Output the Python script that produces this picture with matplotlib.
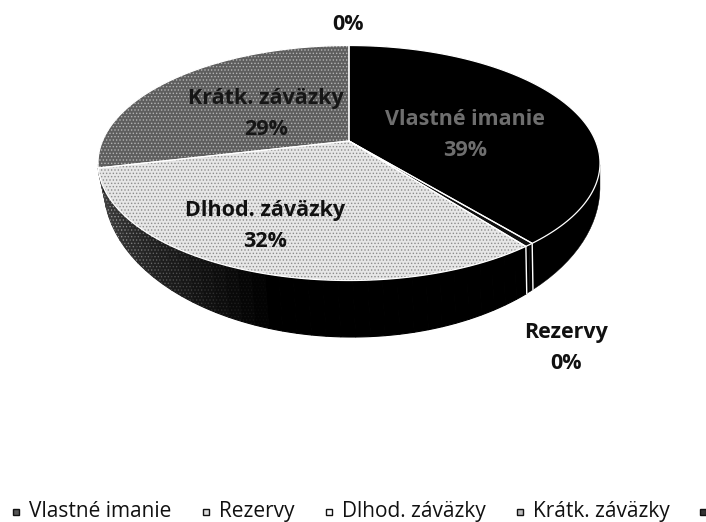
import numpy as np
import matplotlib
matplotlib.use('Agg')
import matplotlib.pyplot as plt

plt.rcParams['font.family'] = ['Open Sans', 'DejaVu Sans']
plt.rcParams['hatch.linewidth'] = 0.6

# values (percent of the pie, clockwise from 12 o'clock)
categories = ['Vlastné imanie', 'Rezervy', 'Dlhod. záväzky', 'Krátk. záväzky', '']
values = [38.9, 0.5, 32.0, 28.6, 0.0]
pct_labels = ['39%', '0%', '32%', '29%', '0%']

face_colors = ['#000000', '#101010', '#e6e6e6', '#5e5e5e', '#303030']
dot_colors = ['#000000', '#101010', '#8c8c8c', '#b4b4b4', '#303030']

# pie geometry in image pixels
apex = (349, 141)
top_c = (349, 163)
top_r = (251, 117.5)
bot_c = (352, 187)
bot_r = (248, 150)

fig = plt.figure(figsize=(7.06, 5.22), dpi=100)
ax = fig.add_axes([0, 0, 1, 1])
ax.set_xlim(0, 706)
ax.set_ylim(522, 0)
ax.axis('off')


def rim_params(theta):
    # ray from the apex hits the top ellipse, gives the ellipse parameter
    dx = np.sin(theta) * top_r[0]
    dy = -np.cos(theta) * top_r[1]
    ox = (apex[0] - top_c[0]) / top_r[0]
    oy = (apex[1] - top_c[1]) / top_r[1]
    ux, uy = dx / top_r[0], dy / top_r[1]
    a = ux**2 + uy**2
    b = 2 * (ox * ux + oy * uy)
    c = ox**2 + oy**2 - 1
    t = (-b + np.sqrt(b**2 - 4 * a * c)) / (2 * a)
    return ox + t * ux, oy + t * uy


def top_xy(theta):
    u, v = rim_params(theta)
    return top_c[0] + u * top_r[0], top_c[1] + v * top_r[1]


def bot_xy(theta):
    u, v = rim_params(theta)
    return bot_c[0] + u * bot_r[0], bot_c[1] + v * bot_r[1]


edges = np.cumsum([0] + values) / sum(values) * 2 * np.pi

# side wall, black on the right, speckled dark towards the left
for i in range(len(values)):
    if values[i] == 0:
        continue
    n = 2 if i != 2 else 40
    steps = np.linspace(edges[i], edges[i + 1], n + 1)
    for k in range(n):
        th = np.linspace(steps[k], steps[k + 1], 30)
        # front half only, the back of the wall is hidden
        th = th[rim_params(th)[1] >= 0]
        if len(th) < 2:
            continue
        tx, ty = top_xy(th)
        bx, by = bot_xy(th)
        xs = np.r_[tx, bx[::-1]]
        ys = np.r_[ty, by[::-1]]
        if i == 2:
            mix = max(0, (k / n - 0.45) / 0.55)
            fc = str(0.0 + mix * 0.28)
            dot = str(0.0 + mix * 0.85)
            ax.fill(xs, ys, facecolor=fc, edgecolor=fc, lw=0.8, zorder=1)
            if mix > 0:
                ax.fill(xs, ys, facecolor='none', edgecolor=dot, hatch='.....', lw=0, zorder=1)
        else:
            ax.fill(xs, ys, facecolor='#000000', edgecolor='#000000', lw=0.3, zorder=1)

# white seam of the thin Rezervy slice on the wall
for th in [edges[1], edges[2]]:
    tx, ty = top_xy(th)
    bx, by = bot_xy(th)
    ax.plot([tx, bx], [ty, by], color='white', lw=1.0, zorder=2)

# top face
for i in range(len(values)):
    if values[i] == 0:
        continue
    th = np.linspace(edges[i], edges[i + 1], 120)
    tx, ty = top_xy(th)
    xs = np.r_[apex[0], tx]
    ys = np.r_[apex[1], ty]
    ax.fill(xs, ys, facecolor=face_colors[i], edgecolor=dot_colors[i], hatch='.....', lw=0, zorder=3)
    ax.plot(np.r_[xs, xs[0]], np.r_[ys, ys[0]], color='white', lw=0.9, zorder=4)

# data labels
label_font = dict(fontsize=15.5, fontweight='bold', ha='center', va='center', linespacing=1.65, zorder=5)
ax.text(465, 135, categories[0] + '\n' + pct_labels[0], color='#6e6e6e', **label_font)
ax.text(266, 114, categories[3] + '\n' + pct_labels[3], color='#161616', **label_font)
ax.text(265, 226, categories[2] + '\n' + pct_labels[2], color='#111111', **label_font)
ax.text(566, 348, categories[1] + '\n' + pct_labels[1], color='#111111', **label_font)
ax.text(348, 25, pct_labels[4], color='#111111', **label_font)

# legend, last entry runs off the edge
legend_x = [16, 206, 329, 520, 703]
for name, x, fc in zip(categories, legend_x, ['#555555', '#dddddd', '#ffffff', '#bbbbbb', '#333333']):
    ax.plot([x], [512], marker='s', ms=4, mfc=fc, mec='#111111', mew=1.0, ls='none', zorder=5)
    ax.text(x + 13, 511.5, name, fontsize=15, color='#111111', ha='left', va='center', zorder=5)

fig.savefig('out.png', dpi=100)
